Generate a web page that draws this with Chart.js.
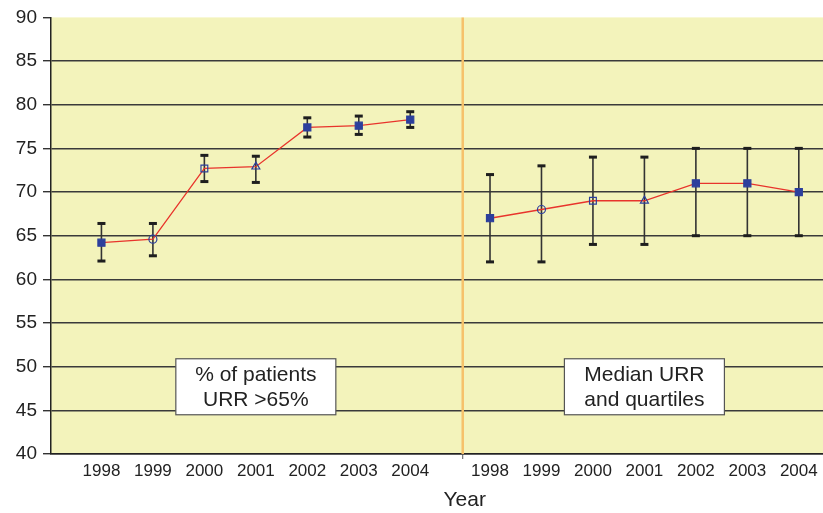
<!DOCTYPE html>
<html>
<head>
<meta charset="utf-8">
<script src="https://cdn.jsdelivr.net/npm/chart.js@4"></script>
<style>
  html, body { margin: 0; padding: 0; background: #fff; }
  #wrap { width: 823px; height: 513px; position: relative; }
</style>
</head>
<body>
<div id="wrap"><canvas id="urrChart"></canvas></div>
<script>
// years shown under each half
const years = ['1998', '1999', '2000', '2001', '2002', '2003', '2004'];

// % of patients with URR > 65%
const pctValues = [64.2, 64.6, 72.7, 72.9, 77.4, 77.6, 78.3];
const pctLow    = [62.1, 62.7, 71.2, 71.1, 76.3, 76.6, 77.4];
const pctHigh   = [66.4, 66.4, 74.2, 74.1, 78.5, 78.7, 79.2];

// median URR and quartiles
const medValues = [67, 68, 69, 69, 71, 71, 70];
const medLow    = [62, 62, 64, 64, 65, 65, 65];
const medHigh   = [72, 73, 74, 74, 75, 75, 75];

const yTicks = [40, 45, 50, 55, 60, 65, 70, 75, 80, 85, 90];
const boxTexts = [['% of patients', 'URR >65%'], ['Median URR', 'and quartiles']];

// layout along the x axis (0..15)
const leftStart = 0.98, rightStart = 8.53, divider = 8;
const leftX = years.map((_, i) => leftStart + i);
const rightX = years.map((_, i) => rightStart + i);
const tickX = leftX.concat(rightX);
const tickLabels = years.concat(years);

const blue = '#2c3f9c';
const styles = ['rect', 'circle', 'rect', 'triangle', 'rect', 'rect', 'rect'];
const fills = [blue, 'rgba(0,0,0,0)', 'rgba(0,0,0,0)', 'rgba(0,0,0,0)', blue, blue, blue];
const radii = [5, 4, 4.8, 4.6, 5, 5, 5];

function makeSet(xs, vals, lows, highs) {
    return {
        data: xs.map((x, i) => ({ x: x, y: vals[i] })),
        errLow: lows,
        errHigh: highs,
        borderColor: '#e8342c',
        borderWidth: 1.3,
        pointStyle: styles,
        pointBackgroundColor: fills,
        pointBorderColor: blue,
        pointBorderWidth: 1.2,
        pointRadius: radii,
        tension: 0
    };
}

const bgPlugin = {
    id: 'bg',
    beforeDraw(chart) {
        const { ctx, chartArea: a } = chart;
        ctx.save();
        ctx.fillStyle = '#f3f3bb';
        ctx.fillRect(a.left, a.top, a.right - a.left, a.bottom - a.top);
        ctx.restore();
    },
    beforeDatasetsDraw(chart) {
        const { ctx, chartArea: a, scales } = chart;
        const xs = scales.x, ys = scales.y;
        ctx.save();
        // divider line
        const dx = xs.getPixelForValue(divider);
        ctx.strokeStyle = '#f6c16a';
        ctx.lineWidth = 2.5;
        ctx.beginPath();
        ctx.moveTo(dx, a.top);
        ctx.lineTo(dx, a.bottom);
        ctx.stroke();
        ctx.strokeStyle = '#555';
        ctx.lineWidth = 1;
        ctx.beginPath();
        ctx.moveTo(dx, a.bottom);
        ctx.lineTo(dx, a.bottom + 5);
        ctx.stroke();
        // error bars
        chart.data.datasets.forEach(ds => {
            ds.data.forEach((p, i) => {
                const px = xs.getPixelForValue(p.x);
                const lo = ys.getPixelForValue(ds.errLow[i]);
                const hi = ys.getPixelForValue(ds.errHigh[i]);
                ctx.strokeStyle = '#333';
                ctx.lineWidth = 1.6;
                ctx.beginPath();
                ctx.moveTo(px, lo);
                ctx.lineTo(px, hi);
                ctx.stroke();
                ctx.fillStyle = '#1e1e1e';
                ctx.fillRect(px - 4, lo - 1.5, 8, 3);
                ctx.fillRect(px - 4, hi - 1.5, 8, 3);
            });
        });
        ctx.restore();
    },
    afterDraw(chart) {
        const { ctx, chartArea: a, scales } = chart;
        const xs = scales.x, ys = scales.y;
        ctx.save();
        // text boxes
        const centers = [(leftX[0] + leftX[6]) / 2, (rightX[0] + rightX[6]) / 2];
        const cy = ys.getPixelForValue(47.7);
        centers.forEach((c, k) => {
            const cx = xs.getPixelForValue(c);
            ctx.fillStyle = '#fff';
            ctx.fillRect(cx - 80, cy - 28, 160, 56);
            ctx.strokeStyle = '#555';
            ctx.lineWidth = 1.2;
            ctx.strokeRect(cx - 80, cy - 28, 160, 56);
            ctx.fillStyle = '#222';
            ctx.font = '21px "Liberation Sans", Arial, sans-serif';
            ctx.textAlign = 'center';
            ctx.textBaseline = 'middle';
            ctx.fillText(boxTexts[k][0], cx, cy - 12);
            ctx.fillText(boxTexts[k][1], cx, cy + 13);
        });
        // axis title
        ctx.fillStyle = '#222';
        ctx.font = '21px "Liberation Sans", Arial, sans-serif';
        ctx.textAlign = 'center';
        ctx.textBaseline = 'middle';
        ctx.fillText('Year', xs.getPixelForValue(divider) + 2, a.bottom + 46);
        ctx.restore();
    }
};

const ctx = document.getElementById('urrChart').getContext('2d');

new Chart(ctx, {
    type: 'line',
    data: {
        datasets: [
            makeSet(leftX, pctValues, pctLow, pctHigh),
            makeSet(rightX, medValues, medLow, medHigh)
        ]
    },
    options: {
        responsive: true,
        maintainAspectRatio: false,
        animation: false,
        layout: { autoPadding: false, padding: { top: 17, right: 0, left: 0, bottom: 0 } },
        plugins: {
            legend: { display: false },
            tooltip: { enabled: false }
        },
        scales: {
            x: {
                type: 'linear',
                min: 0,
                max: 15,
                afterBuildTicks: scale => { scale.ticks = tickX.map(v => ({ value: v })); },
                afterFit: scale => {
                    scale.height = 59;
                    scale.paddingLeft = 0;
                    scale.paddingRight = 0;
                },
                ticks: {
                    autoSkip: false,
                    maxRotation: 0,
                    padding: 7,
                    color: '#222',
                    font: { family: '"Liberation Sans", Arial, sans-serif', size: 17 },
                    callback: (v, i) => tickLabels[i]
                },
                grid: { display: false, drawTicks: false },
                border: { color: '#222', width: 1.5 }
            },
            y: {
                min: 40,
                max: 90,
                afterBuildTicks: scale => { scale.ticks = yTicks.map(v => ({ value: v })); },
                afterFit: scale => { scale.width = 51; },
                ticks: {
                    padding: 6,
                    color: '#222',
                    font: { family: '"Liberation Sans", Arial, sans-serif', size: 19 }
                },
                grid: {
                    color: c => (c.tick && c.tick.value === 90) ? 'rgba(0,0,0,0)' : '#3a3a3a',
                    lineWidth: 1.4,
                    tickLength: 8,
                    tickColor: '#333'
                },
                border: { color: '#222', width: 1.5 }
            }
        }
    },
    plugins: [bgPlugin]
});
</script>
</body>
</html>
